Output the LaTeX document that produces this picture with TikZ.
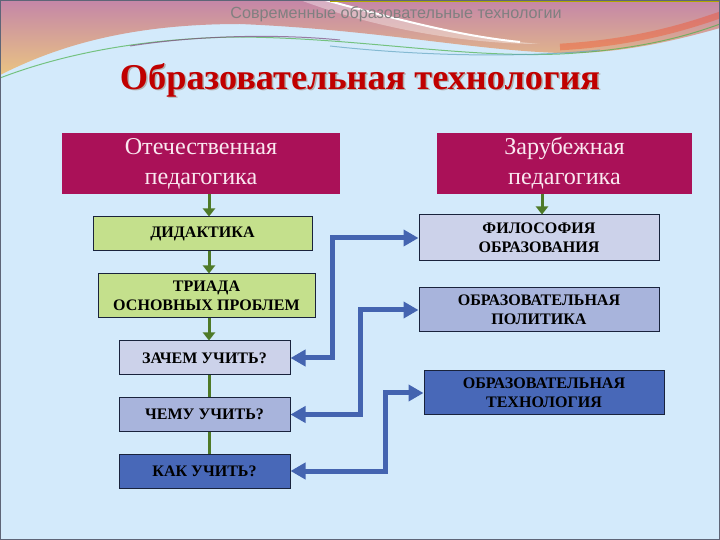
\documentclass[tikz,border=0pt]{standalone}
\usepackage{fontspec}
\setmainfont{Liberation Serif}
\setsansfont{Liberation Sans}
\usetikzlibrary{
	positioning,
	calc,
	arrows.meta
}
\definecolor{bg}{RGB}{211,234,251}
\definecolor{mauve}{RGB}{196,134,168}
\definecolor{peach}{RGB}{234,196,130}
\definecolor{crim}{RGB}{170,17,88}
\definecolor{leaf}{RGB}{196,224,140}
\definecolor{lav}{RGB}{204,210,234}
\definecolor{lavd}{RGB}{168,180,220}
\definecolor{deep}{RGB}{72,104,184}
\definecolor{linkc}{RGB}{68,100,176}
\definecolor{stem}{RGB}{78,122,40}
\definecolor{edge}{RGB}{25,35,60}
\definecolor{titlec}{RGB}{192,0,0}
\definecolor{headtext}{RGB}{250,232,240}
\def\pxu{0.03cm}
\newcommand{\headfont}{\fontsize{20.6}{25.5}\selectfont}
\newcommand{\boxfont}{\bfseries\fontsize{13.7}{16}\selectfont}
\tikzset{
	every picture/.style={
		x=0.03cm,
		y=-0.03cm,
	},
}
\tikzstyle{box} = [
	draw=edge,
	line width=.3mm,
	inner sep=0mm,
	align=center,
	text=black,
	font=\boxfont
]
\tikzstyle{head} = [box, draw=none, fill=crim, text=headtext, font=\headfont]
\tikzstyle{spine} = [draw=stem, line width=.9mm]
\tikzstyle{spinearrow} = [spine, -{Triangle[length=2.4mm,width=3.6mm]}]
\tikzstyle{link} = [
	draw=linkc,
	line width=1.5mm,
	{Triangle[length=4.5mm,width=4.8mm]}-{Triangle[length=4.5mm,width=4.8mm]}
]

\begin{document}
\begin{tikzpicture}
	\useasboundingbox (0,0) rectangle (720,540);
	\fill[bg] (0,0) rectangle (720,540);

	% top band
	\shade[top color=mauve, bottom color=peach] (0,0) -- (720,0) -- (720,28)
		.. controls (660,45) and (610,54) .. (560,53)
		.. controls (470,50) and (380,30) .. (240,24)
		.. controls (120,24) and (50,50) .. (0,75) -- cycle;
	\fill[white, opacity=.35] (325,0) .. controls (400,20) and (470,38) .. (540,44)
		.. controls (470,44) and (380,30) .. (300,0) -- cycle;
	\draw[white, line width=.6mm] (325,0) .. controls (400,20) and (460,36) .. (520,42);
	\draw[red!60!orange, opacity=.3, line width=2mm] (560,47) .. controls (630,43) and (680,29) .. (720,15);
	\draw[olive!70!yellow, line width=.6mm] (330,1) -- (720,1);
	\draw[green!40!gray, opacity=.7, line width=.3mm] (0,78) .. controls (60,55) and (140,38) .. (240,37)
		.. controls (360,38) and (460,58) .. (560,54) .. controls (640,50) and (690,35) .. (720,24);
	\draw[violet!40!gray, opacity=.7, line width=.3mm] (130,46) .. controls (200,35) and (280,34) .. (340,40);
	\draw[cyan!50!gray, opacity=.7, line width=.3mm] (330,46) .. controls (420,56) and (520,58) .. (600,50);

	\node[font=\sffamily\fontsize{13.8}{16}\selectfont, text=gray] (sub) at (396,14) {Современные образовательные технологии};
	\node[font=\bfseries\fontsize{31}{35}\selectfont, text=black!30] at (361.5,81.5) {Образовательная технология};
	\node[font=\bfseries\fontsize{31}{35}\selectfont, text=titlec] (title) at (360,80) {Образовательная технология};

	\node[head, minimum width=278*\pxu, minimum height=61*\pxu] (home) at (201,163.5) {Отечественная\\педагогика};
	\node[head, minimum width=255*\pxu, minimum height=61*\pxu] (abroad) at (564.5,163.5) {Зарубежная\\педагогика};

	\node[box, fill=leaf, minimum width=219*\pxu, minimum height=34*\pxu] (didact) at (202.5,234) {ДИДАКТИКА};
	\node[box, fill=leaf, minimum width=217*\pxu, minimum height=44*\pxu] (triad) at (206.5,296) {ТРИАДА\\ОСНОВНЫХ ПРОБЛЕМ};
	\node[box, fill=lav, minimum width=171*\pxu, minimum height=34*\pxu] (why) at (204.5,358) {ЗАЧЕМ УЧИТЬ?};
	\node[box, fill=lavd, minimum width=171*\pxu, minimum height=33*\pxu] (what) at (204.5,414.5) {ЧЕМУ УЧИТЬ?};
	\node[box, fill=deep, minimum width=171*\pxu, minimum height=34*\pxu] (how) at (204.5,471) {КАК УЧИТЬ?};

	\node[box, fill=lav, minimum width=240*\pxu, minimum height=46*\pxu] (phil) at (539,238) {ФИЛОСОФИЯ\\ОБРАЗОВАНИЯ};
	\node[box, fill=lavd, minimum width=240*\pxu, minimum height=44*\pxu] (policy) at (539,310) {ОБРАЗОВАТЕЛЬНАЯ\\ПОЛИТИКА};
	\node[box, fill=deep, minimum width=240*\pxu, minimum height=44*\pxu] (tech) at (544,393) {ОБРАЗОВАТЕЛЬНАЯ\\ТЕХНОЛОГИЯ};

	\coordinate (axis) at (209,0);
	\coordinate (axis2) at (542,0);
	\foreach \a/\b in {home/didact, didact/triad, triad/why}
		\draw[spinearrow] (\a.south -| axis) -- (\b.north -| axis);
	\foreach \a/\b in {why/what, what/how}
		\draw[spine] (\a.south -| axis) -- (\b.north -| axis);
	\draw[spinearrow] (abroad.south -| axis2) -- (phil.north -| axis2);

	\foreach \a/\b/\x [count=\n] in {phil/why/332, policy/what/360, tech/how/385} {
		\coordinate (bend\n) at (\x,0);
		\draw[link] (\a.west) -- (\a.west -| bend\n) |- (\b.east);
	}

	\draw[edge!70, line width=.3mm] (0.5,0.5) rectangle (719.5,539.5);
\end{tikzpicture}
\end{document}
